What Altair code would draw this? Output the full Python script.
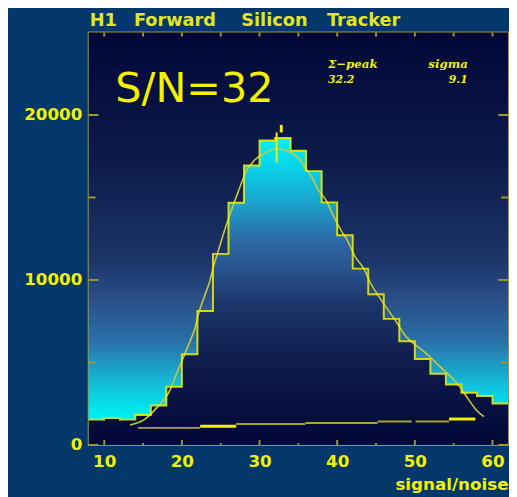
import altair as alt
import pandas as pd

# ---------------- data ----------------
x_range = [8, 62]
y_range = [0, 25000]

bin_left = [8, 10, 12, 14, 16, 18, 20, 22, 24, 26, 28, 30, 32, 34, 36, 38, 40,
            42, 44, 46, 48, 50, 52, 54, 56, 58, 60]
counts = [1534, 1630, 1534, 1809, 2388, 3522, 5493, 8119, 11582, 14687, 16937,
          18450, 18600, 17833, 16597, 14704, 12716, 10687, 9134, 7642, 6287,
          5212, 4316, 3660, 3164, 2967, 2507]

fit_x = [13.3, 15.2, 16.6, 18.6, 19.1, 20.4, 21.1, 21.7, 22.1, 22.9, 23.6, 24.1,
         24.7, 25.5, 26.6, 27.3, 28.3, 29.3, 30.6, 32.3, 33.7, 35.0, 35.9, 36.9,
         37.5, 38.6, 39.4, 40.5, 41.3, 42.3, 43.5, 44.3, 45.6, 47.5, 48.9, 50.4,
         51.9, 53.2, 54.8, 55.9, 56.9, 58.0, 58.9]
fit_y = [1210, 1550, 2170, 3460, 4060, 5550, 6350, 7090, 7880, 9000, 9930, 10870,
         11780, 13010, 14510, 15400, 16600, 17240, 17690, 17950, 17790, 17390,
         16790, 16100, 15500, 14810, 14010, 13010, 12420, 11420, 10630, 9800,
         8840, 7540, 6550, 5950, 5360, 4760, 4060, 3460, 2760, 2070, 1710]

base_start = [14.35, 22.35, 27.0, 35.9, 45.2, 50.1, 54.4]
base_end = [22.35, 27.0, 35.9, 45.2, 49.6, 54.4, 57.8]
base_val = [1033, 1134, 1272, 1331, 1415, 1415, 1570]
base_bright = [False, True, False, False, False, False, True]

peak_x = [32.2]
peak_lo = [17134]
peak_hi = [18943]
peak_tick_x = [32.8]
peak_tick_lo = [18943]
peak_tick_hi = [19400]

x_labels = [10, 20, 30, 40, 50, 60]
x_minor = [15, 25, 35, 45, 55]
y_labels = [0, 10000, 20000]
y_minor = [5000, 15000]

title_words = ["H1", "Forward", "Silicon", "Tracker"]
sn_text = "S/N=32"
stat_names = ["\u03a3\u2212peak", "sigma"]
stat_vals = ["32.2", "9.1"]

# ---------------- styling ----------------
W, H = 426, 419
YELLOW = "#f2f200"
OLIVE = "#a8a42c"
FRAME = "#9c9830"
BG = "#04386a"
FONT = "DejaVu Sans"

xs = alt.Scale(domain=x_range, nice=False, zero=False)
ys = alt.Scale(domain=y_range, nice=False, zero=False)

bg_grad = alt.LinearGradient(
    gradient="linear", x1=0, x2=0, y1=0, y2=1,
    stops=[
        alt.GradientStop(color="#020838", offset=0),
        alt.GradientStop(color="#0c1a4a", offset=0.3),
        alt.GradientStop(color="#1c3468", offset=0.55),
        alt.GradientStop(color="#2a5088", offset=0.65),
        alt.GradientStop(color="#2a70aa", offset=0.75),
        alt.GradientStop(color="#14bcd8", offset=0.85),
        alt.GradientStop(color="#00eaf2", offset=0.92),
        alt.GradientStop(color="#00f0f5", offset=1),
    ])

hist_grad = alt.LinearGradient(
    gradient="linear", x1=0, x2=0, y1=0, y2=1,
    stops=[
        alt.GradientStop(color="#00f2f5", offset=0),
        alt.GradientStop(color="#08d8ec", offset=0.08),
        alt.GradientStop(color="#1aa8d0", offset=0.2),
        alt.GradientStop(color="#2c6aa6", offset=0.33),
        alt.GradientStop(color="#2a5590", offset=0.42),
        alt.GradientStop(color="#1c3468", offset=0.55),
        alt.GradientStop(color="#0e1a4a", offset=0.75),
        alt.GradientStop(color="#020838", offset=1),
    ])

x_axis = alt.Axis(values=x_labels, ticks=False, domain=False, grid=False,
                  labelFont=FONT, labelFontWeight="bold", labelFontSize=17,
                  labelColor=YELLOW, labelPadding=9, labelFlush=False,
                  titleFont=FONT, titleFontSize=17,
                  titleFontWeight="bold", titleColor=YELLOW, titleAnchor="end",
                  titleY=40, titleBaseline="middle")
y_axis = alt.Axis(values=y_labels, ticks=False, domain=False, grid=False,
                  format="d", labelFont=FONT, labelFontWeight="bold",
                  labelFontSize=17, labelColor=YELLOW, labelPadding=7,
                  labelFlush=False)


def X(field):
    return alt.X(field, scale=xs, axis=x_axis, title="signal/noise")


def Y(field):
    return alt.Y(field, scale=ys, axis=y_axis, title=None)


# background rect (plot area gradient)
bg_df = pd.DataFrame({"x": [x_range[0]], "x2": [x_range[1]],
                      "y": [y_range[0]], "y2": [y_range[1]]})
bg = alt.Chart(bg_df).mark_rect(fill=bg_grad).encode(
    x=X("x:Q"), x2="x2:Q", y=Y("y:Q"), y2="y2:Q")

hist_df = pd.DataFrame({"x": bin_left + [x_range[1]], "y": counts + [counts[-1]]})
hist_area = alt.Chart(hist_df).mark_area(interpolate="step-after", fill=hist_grad).encode(
    x=X("x:Q"), y=Y("y:Q"))
hist_line = alt.Chart(hist_df).mark_line(interpolate="step-after", color=YELLOW,
                                         strokeWidth=2, opacity=0.85).encode(
    x=X("x:Q"), y=Y("y:Q"))

fit_df = pd.DataFrame({"x": fit_x, "y": fit_y})
fit = alt.Chart(fit_df).mark_line(color="#c8c838", strokeWidth=1.6,
                                  interpolate="monotone").encode(
    x=X("x:Q"), y=Y("y:Q"))

base_df = pd.DataFrame({"x": base_start, "x2": base_end, "y": base_val,
                        "bright": base_bright})
base_dim = alt.Chart(base_df).transform_filter("!datum.bright").mark_rule(
    color=OLIVE, strokeWidth=2).encode(x=X("x:Q"), x2="x2:Q", y=Y("y:Q"))
base_br = alt.Chart(base_df).transform_filter("datum.bright").mark_rule(
    color=YELLOW, strokeWidth=3).encode(x=X("x:Q"), x2="x2:Q", y=Y("y:Q"))

peak_df = pd.DataFrame({"x": peak_x, "y": peak_lo, "y2": peak_hi})
peak = alt.Chart(peak_df).mark_rule(color=YELLOW, strokeWidth=2).encode(
    x=X("x:Q"), y=Y("y:Q"), y2="y2:Q")
ptick_df = pd.DataFrame({"x": peak_tick_x, "y": peak_tick_lo, "y2": peak_tick_hi})
ptick = alt.Chart(ptick_df).mark_rule(color=YELLOW, strokeWidth=3).encode(
    x=X("x:Q"), y=Y("y:Q"), y2="y2:Q")


# inward ticks
def xticks(vals, y0, y1):
    return alt.Chart(pd.DataFrame({"x": vals})).mark_rule(color=FRAME, strokeWidth=2).encode(
        x=X("x:Q"), y=alt.value(y0), y2=alt.value(y1))


def yticks(vals, x0, x1):
    return alt.Chart(pd.DataFrame({"y": vals})).mark_rule(color=FRAME, strokeWidth=2).encode(
        y=Y("y:Q"), x=alt.value(x0), x2=alt.value(x1))


all_x = sorted(x_labels + x_minor)
ticks = [
    xticks(x_labels, H - 5, H), xticks(x_minor, H - 2, H),
    xticks(all_x, 0, 4),
    yticks(y_labels, 0, 10), yticks(y_minor, 0, 7),
    yticks(y_labels, W - 10, W), yticks(y_minor, W - 7, W),
]


def label(text, x, y, size, align="left", baseline="alphabetic", font=FONT,
          weight="normal", style="normal", color=YELLOW):
    return alt.Chart(pd.DataFrame({"t": [text]})).mark_text(
        align=align, baseline=baseline, font=font, fontSize=size,
        fontWeight=weight, fontStyle=style, color=color).encode(
        text="t:N", x=alt.value(x), y=alt.value(y))


title_x = [1, 46, 155, 242]
texts = [label(w, tx, -7, 18, weight="bold", color="#e6e620")
         for w, tx in zip(title_words, title_x)]
texts += [
    label(sn_text, 27, 71, 42),
    label(stat_names[0], 243, 36, 12, font="DejaVu Serif", weight="bold", style="italic"),
    label(stat_vals[0], 243, 51, 11, font="DejaVu Serif", weight="bold", style="italic"),
    label(stat_names[1], 345, 36, 12, font="DejaVu Serif", weight="bold", style="italic"),
    label(stat_vals[1], 385, 51, 11, align="right", font="DejaVu Serif", weight="bold", style="italic"),
]

chart = alt.layer(
    bg, hist_area, fit, hist_line, base_dim, base_br, peak, ptick, *ticks, *texts
).properties(
    width=W, height=H,
    padding={"left": 82, "top": 21, "right": 1, "bottom": 49},
    autosize=alt.AutoSizeParams(type="none"),
).configure(
    background=BG,
).configure_view(
    stroke=FRAME, strokeWidth=2,
)

chart.save("out.html", embed_options={"renderer": "svg", "actions": False})
